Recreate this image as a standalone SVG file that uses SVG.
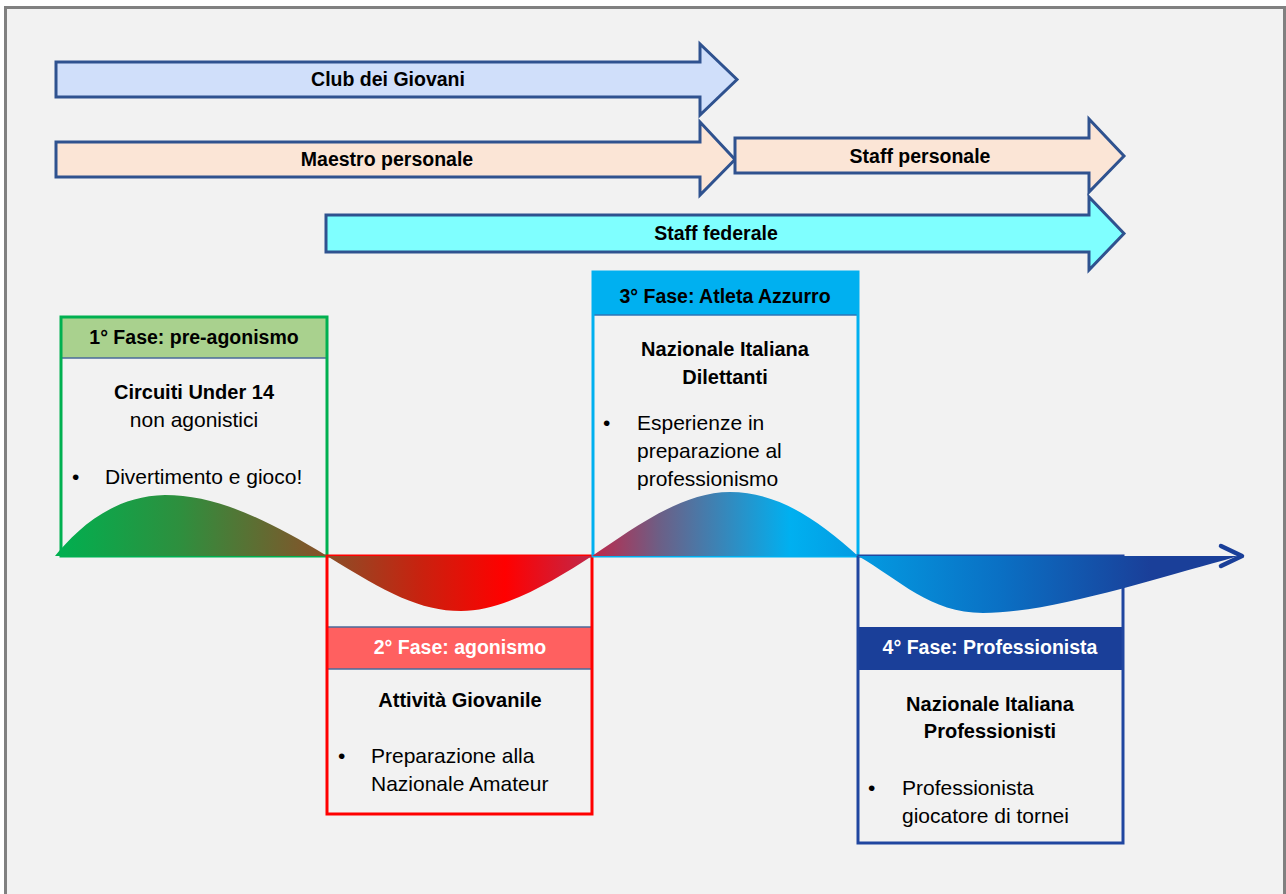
<svg xmlns="http://www.w3.org/2000/svg" width="1286" height="894" viewBox="0 0 1286 894">
<defs>
<style>
.t{font-family:"Liberation Sans",Arial,sans-serif;fill:#000}
.b{font-weight:bold}
.h{font-size:19.5px;font-weight:bold;text-anchor:middle}
.ti{font-size:20px;font-weight:bold;text-anchor:middle}
.bd{font-size:21px}
.w{fill:#fff}
.arr{stroke:#2f528f;stroke-width:3;stroke-linejoin:miter}
.sep{stroke:#4a6a9a;stroke-width:1.5}
</style>
<linearGradient id="wg" gradientUnits="userSpaceOnUse" x1="57" y1="0" x2="1243" y2="0">
<stop offset="0" stop-color="#00b050"/>
<stop offset="0.104" stop-color="#2e8f3e"/>
<stop offset="0.228" stop-color="#8a4f28"/>
<stop offset="0.306" stop-color="#c8220f"/>
<stop offset="0.378" stop-color="#ff0000"/>
<stop offset="0.451" stop-color="#c0284a"/>
<stop offset="0.508" stop-color="#6c5f86"/>
<stop offset="0.618" stop-color="#00b0f0"/>
<stop offset="0.795" stop-color="#0a70c4"/>
<stop offset="0.922" stop-color="#1a3f99"/>
<stop offset="1" stop-color="#1a3f99"/>
</linearGradient>
</defs>
<rect x="0" y="0" width="1286" height="894" fill="#ffffff"/>
<rect x="5.5" y="7.5" width="1279" height="900" fill="#f2f2f2" stroke="#808080" stroke-width="3"/>

<g id="arrows-top">
<g id="club">
<path class="arr" d="M56,62 H700 V44 L737,79.5 L700,115 V97 H56 Z" fill="#d0dffa"/>
<text class="t h" x="388" y="86">Club dei Giovani</text>
</g>
<g id="staff-federale">
<path class="arr" d="M326,215 H1089 V197 L1124,233.5 L1089,270 V252 H326 Z" fill="#7fffff"/>
<text class="t h" x="716" y="240">Staff federale</text>
</g>
<g id="maestro">
<path class="arr" d="M56,142 H700 V122 L735,159.5 L700,195 V177 H56 Z" fill="#fbe5d6"/>
<text class="t h" x="387" y="166">Maestro personale</text>
</g>
<g id="staff-personale">
<path class="arr" d="M735,138 H1089 V119 L1124,156 L1089,192 V173 H735 Z" fill="#fbe5d6"/>
<text class="t h" x="920" y="163">Staff personale</text>
</g>
</g>

<g id="fase1">
<rect x="61" y="317" width="266" height="41" fill="#a9d18e"/>
<line class="sep" x1="61" y1="358" x2="327" y2="358"/>
<rect x="61" y="317" width="266" height="239" fill="none" stroke="#00b050" stroke-width="3"/>
<text class="t h" x="194" y="344">1° Fase: pre-agonismo</text>
<text class="t ti" x="194" y="399">Circuiti Under 14</text>
<text class="t bd" x="194" y="427" text-anchor="middle">non agonistici</text>
<text class="t bd" x="72" y="484">•</text>
<text class="t bd" x="105" y="484">Divertimento e gioco!</text>
</g>

<g id="fase2">
<rect x="327" y="627" width="265" height="42" fill="#ff6060"/>
<line class="sep" x1="327" y1="627" x2="592" y2="627"/>
<line class="sep" x1="327" y1="669" x2="592" y2="669"/>
<rect x="327" y="556" width="265" height="258" fill="none" stroke="#ff0000" stroke-width="3"/>
<text class="t h w" x="460" y="654">2° Fase: agonismo</text>
<text class="t ti" x="460" y="707">Attività Giovanile</text>
<text class="t bd" x="338" y="763">•</text>
<text class="t bd" x="371" y="763">Preparazione alla</text>
<text class="t bd" x="371" y="791">Nazionale Amateur</text>
</g>

<g id="fase3">
<rect x="593" y="272" width="265" height="43" fill="#00b0f0"/>
<line x1="593" y1="315" x2="858" y2="315" stroke="#2e75b6" stroke-width="1.5"/>
<rect x="593" y="272" width="265" height="284" fill="none" stroke="#00b0f0" stroke-width="3"/>
<text class="t h" x="725" y="303">3° Fase: Atleta Azzurro</text>
<text class="t ti" x="725" y="356">Nazionale Italiana</text>
<text class="t ti" x="725" y="384">Dilettanti</text>
<text class="t bd" x="603" y="430">•</text>
<text class="t bd" x="637" y="430">Esperienze in</text>
<text class="t bd" x="637" y="458">preparazione al</text>
<text class="t bd" x="637" y="486">professionismo</text>
</g>

<g id="fase4">
<rect x="858" y="627" width="265" height="43" fill="#1a3f99"/>
<rect x="858" y="556" width="265" height="287" fill="none" stroke="#2046a0" stroke-width="3"/>
<text class="t h w" x="990" y="654">4° Fase: Professionista</text>
<text class="t ti" x="990" y="711">Nazionale Italiana</text>
<text class="t ti" x="990" y="738">Professionisti</text>
<text class="t bd" x="868" y="795">•</text>
<text class="t bd" x="902" y="795">Professionista</text>
<text class="t bd" x="902" y="823">giocatore di tornei</text>
</g>

<g id="connectors">
<path id="wave" fill="url(#wg)" d="M55,556 C75,532 110,496 165,495 C215,495 265,518 327,556 C387,593 420,611 461,611 C505,611 555,580 592,556 C630,531 680,492 730,492 C780,492 820,522 858,556 C900,580 930,613 983,613 C1050,613 1150,580 1225,560 L1238,556 Z"/>
<polyline points="1221,546 1242,556 1221,566" fill="none" stroke="#1a3f99" stroke-width="4.5" stroke-linecap="round" stroke-linejoin="round"/>
</g>
</svg>
